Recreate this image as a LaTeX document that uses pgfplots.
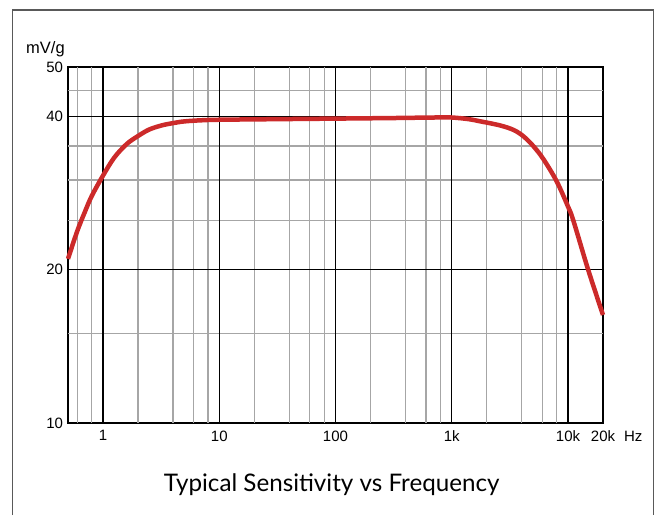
\documentclass[border=0pt]{standalone}
\usepackage{fontspec}
\setmainfont{Liberation Sans}
\newfontfamily\titlefont{Lato}
\usepackage{pgfplots}
\pgfplotsset{compat=1.18}
\definecolor{curve}{HTML}{CC2A2A}
\begin{document}
\begin{tikzpicture}
\useasboundingbox (0pt,0pt) rectangle (658pt,515pt);
\draw[line width=1.5pt, black!65] (12.7pt,0pt) -- (12.7pt,505pt) -- (653.7pt,505pt) -- (653.7pt,0pt);
\begin{axis}[
 at={(68pt,92pt)}, anchor=south west,
 scale only axis, width=535pt, height=356pt,
 xmode=log, ymode=log,
 xmin=0.5, xmax=20000, ymin=10, ymax=50,
 xtick={1,10,100,1000,10000,20000},
 xticklabels={1,10,100,1k,10k,20k\rlap{\hspace{9pt}Hz}},
 ytick={10,20,40,50}, yticklabels={10,20,40,50},
 xminorticks=false, yminorticks=false,
 xmajorgrids=false, ymajorgrids=false, xminorgrids=false, yminorgrids=false,
 tick style={draw=none},
 major tick length=0pt, minor tick length=0pt,
 axis line style={black, line width=1.5pt},
 tick label style={font=\fontsize{15}{17}\selectfont},
 xticklabel style={yshift=-4pt},
 yticklabel style={xshift=-1.5pt},
 /pgf/number format/assume math mode=true,
 clip=false,
]
\pgfplotsinvokeforeach{0.6,0.8,2,4,6,8,20,40,60,80,200,400,600,800,2000,4000,6000,8000}{
  \draw[black!35, line width=1.2pt] (axis cs:#1,10) -- (axis cs:#1,50);
}
\pgfplotsinvokeforeach{15,25,30,35,45}{
  \draw[black!35, line width=1.2pt] (axis cs:0.5,#1) -- (axis cs:20000,#1);
}
\pgfplotsinvokeforeach{1,10,100,1000,10000}{
  \draw[black, line width=1.2pt] (axis cs:#1,10) -- (axis cs:#1,50);
}
\pgfplotsinvokeforeach{20,40}{
  \draw[black, line width=1.2pt] (axis cs:0.5,#1) -- (axis cs:20000,#1);
}
\addplot[curve, line width=4.5pt, smooth, tension=0.55] coordinates {
(0.5,21.0) (0.6,23.8) (0.7,26.0) (0.8,27.9) (1,30.6) (1.25,33.2)
(1.6,35.3) (2,36.6) (2.5,37.7) (3.2,38.4) (4,38.8) (5,39.1) (7,39.3)
(10,39.4) (30,39.5) (100,39.6) (300,39.7) (700,39.8) (1000,39.8)
(1400,39.5) (1770,39.1) (2600,38.4) (3420,37.6) (4170,36.5) (5070,34.9)
(6180,32.9) (8000,29.8) (10000,26.6) (11100,25.0) (14900,20.0) (20000,16.3)
};
\end{axis}
\node[anchor=base west, inner sep=0pt, font=\fontsize{16.5}{18}\selectfont] at (26pt,461.7pt) {mV/g};
\node[anchor=base, inner sep=0pt, font=\titlefont\fontsize{24.2}{28}\selectfont] at (331.7pt,23.3pt) {Typical Sensitivity vs Frequency};
\end{tikzpicture}
\end{document}
